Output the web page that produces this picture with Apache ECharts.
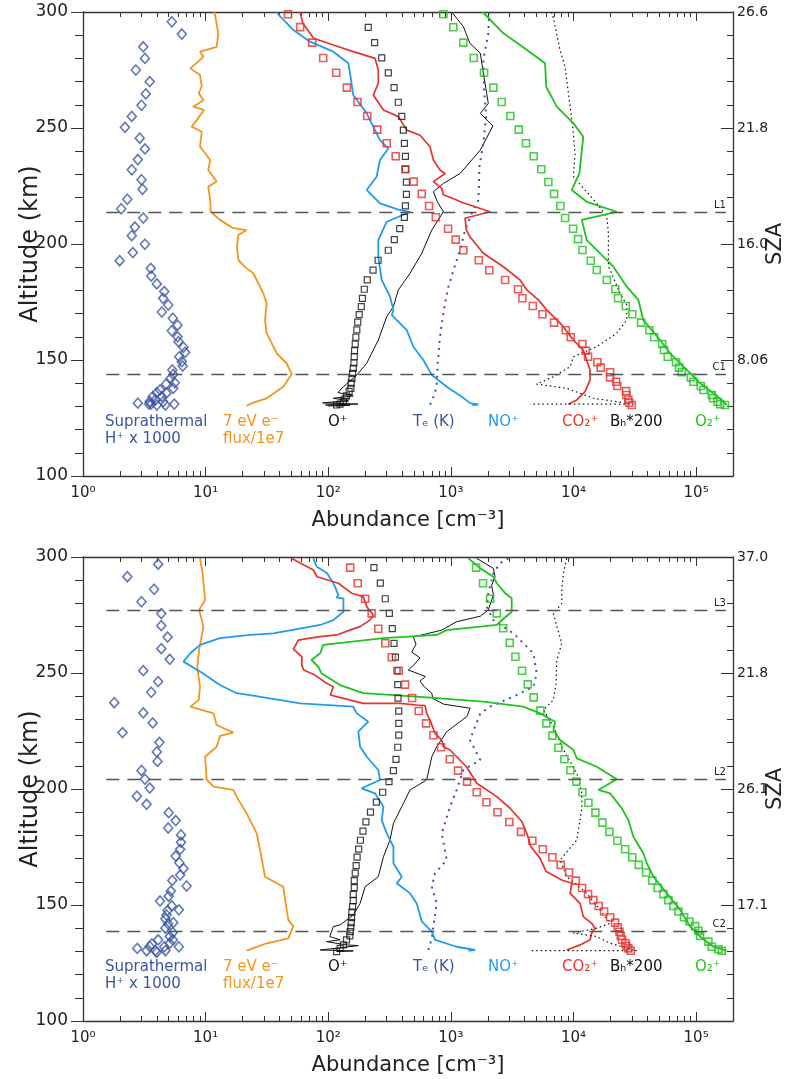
<!DOCTYPE html>
<html>
<head>
<meta charset="utf-8">
<script src="https://cdn.jsdelivr.net/npm/echarts@6/dist/echarts.min.js"></script>
<style>
html, body { margin: 0; padding: 0; background: #fff; }
#main { width: 785px; height: 1079px; }
</style>
</head>
<body>
<div id="main"></div>
<script>
// ---- axes ----
const decades = [1, 10, 100, 1000, 10000, 100000]
const decadeLabels = ['10⁰', '10¹', '10²', '10³', '10⁴', '10⁵']
const minorTicks = [2, 3, 4, 5, 6, 7, 8, 9, 20, 30, 40, 50, 60, 70, 80, 90,
    200, 300, 400, 500, 600, 700, 800, 900, 2000, 3000, 4000, 5000, 6000, 7000, 8000, 9000,
    20000, 30000, 40000, 50000, 60000, 70000, 80000, 90000, 200000]
const szaAlt = [300, 250, 200, 150]
const szaTop = ['26.6', '21.8', '16.0', '8.06']
const szaBot = ['37.0', '21.8', '26.1', '17.1']
const eventsTop = [['L1', 213.8], ['C1', 144]]
const eventsBot = [['L3', 277], ['L2', 204], ['C2', 138.8]]

// ---- top panel, [abundance, altitude km] ----
const hTop = [[5.3,295.8],[6.4,290.5],[3.1,285],[3.2,280],[2.7,275],[3.5,270],[3.25,264.7],[3.0,259.8],[2.5,255],[2.2,250.3],
    [2.9,245.6],[3.2,241],[2.8,236.4],[2.5,232],[3.0,227.7],[3.06,223.6],[2.3,219.3],[2.05,215.2],[3.1,211.2],[2.65,207.3],
    [2.5,203.6],[3.2,199.9],[2.55,196.3],[1.99,192.8],[3.57,189.5],[3.6,186.2],[4.0,182.8],[4.6,179.5],[4.5,176.6],[4.96,173.7],
    [4.4,170.7],[5.4,168],[5.9,165],[5.3,162.6],[5.9,160],[6.0,157.9],[6.6,155.5],[6.8,153.3],[6.1,151.4],[6.4,149.3],
    [6.5,147.4],[5.35,145.7],[5.45,143.8],[5.2,142.1],[5.6,140.2],[4.75,139.6],[5.45,137.8],[4.25,137.1],[4.0,135.9],[4.8,135.7],
    [3.7,134.2],[4.4,134.2],[3.9,132.8],[3.5,132.1],[4.5,132],[3.6,131],[4.0,130.6],[2.8,131.4],[3.45,131],[5.55,131],[4.7,130.6]]
const fluxTop = [[11.8,300],[12.7,290.8],[12.3,285],[9.0,282.9],[9.6,280.8],[8.5,278.2],[7.5,275.7],[9.0,272.8],[9.3,268],[8.8,265],
    [9.6,262],[7.9,259.2],[9.7,257.8],[8.5,253.5],[7.7,250.6],[9.3,248.4],[9.0,242],[10.9,236.2],[10.5,231.9],[12.3,226.9],
    [10.5,224.7],[10.9,219],[11.0,213.9],[13.1,210.4],[16.8,206.8],[21.6,206],[18.5,203.9],[18.0,198.9],[18.5,193],[21.6,189.5],
    [24.5,187.4],[29.5,178.7],[31.5,174.4],[30.5,167.2],[31.5,161.5],[38,152.9],[45.7,148.6],[50.4,144],[43,138.5],[31.5,133.5],
    [24.5,131.6],[21.6,130.3]]
const oSqTop = [[212,293.4],[239,286.8],[273,280.2],[309,273.8],[344,267.4],[373,261.1],[398,255],[410,249.1],[418,243.4],[426,237.8],
    [426,232.2],[434,226.7],[434,221.4],[426,216.4],[418,211.5],[383,206.6],[346,201.9],[309,197.3],[255,193],[232,188.7],
    [208,184.5],[197,180.5],[190,176.6],[186,173],[179,169.6],[174,166.3],[171,163],[168,159.8],[166,156.8],[164,154],
    [163,151.4],[162,148.8],[160,146.4],[158,144.2],[156,142.1],[154,140],[153,137.8],[148,136.5],[141,134.5],[137,133.3],
    [133,132.1],[125,131],[117,130.6]]
const oLineTop = [[1016,300],[1265,293.7],[1430,286.5],[1740,282.2],[1840,273.6],[1960,265],[2020,260.6],[1740,256.3],[2200,250.9],[1740,240.5],
    [1190,230.4],[869,226.1],[720,222.5],[780,218],[869,213.9],[699,206],[579,196],[465,187.4],[373,180.2],[340,173],
    [300,168.7],[256,158.6],[206,148.6],[171,143.5],[133,138.5],[120,136],[160,134.5],[110,133.5],[145,132.5],[90,131.5],
    [175,131],[95,130.6],[150,130.4],[100,130.2]]
const teTop = [[2060,300],[2020,290.8],[1840,279.3],[1860,267.8],[1940,254.9],[1840,243.4],[1710,233.3],[1680,219],[1480,213.2],[1305,206],
    [1190,197.4],[1050,188.8],[955,181.6],[897,174.4],[843,165.8],[805,157.2],[782,148.6],[767,140],[742,135.7],[676,130.6]]
const noTop = [[37.5,300],[52,292.2],[71,287.2],[110,282.9],[146,277.9],[152,272.1],[160,264.2],[206,256.3],[264,244.8],[309,241.2],
    [264,236.2],[248,229],[206,223.3],[264,217.5],[373,214.8],[465,213.8],[300,209.6],[256,201.7],[256,194.5],[273,184.5],
    [319,177.3],[340,171.6],[330,169.4],[362,167.2],[437,162.9],[494,155.7],[597,150],[699,143.5],[925,138.5],[1227,134.2],
    [1435,131.4],[1676,130.9],[1500,130.5]]
const co2Top = [[59,300],[62,295.1],[76,288.7],[110,285.8],[160,282.9],[241,280],[256,275],[256,269.3],[233,264.2],[282,257.8],
    [373,254.9],[437,249.1],[561,246.9],[676,241.9],[720,236.2],[816,231.9],[897,230.4],[720,226.9],[843,224],[869,221.2],
    [1115,219],[1190,218.2],[2090,213.9],[1305,211.1],[1340,206],[1430,203.1],[1840,196],[2680,190.2],[3670,184.5],[4160,180.2],
    [5170,175.9],[6050,171.6],[8030,165.1],[10000,158.6],[12000,154.3],[13650,145.7],[13650,141.4],[12440,136.4],[10640,132.8],[9080,130.9]]
const co2SqTop = [[47,299],[59,293.5],[74,286.8],[91,280.2],[116,273.8],[142,267.4],[173,261.2],[208,255.2],[251,249.3],[300,243.4],
    [355,237.8],[426,232.2],[498,226.9],[579,221.6],[664,216.4],[754,211.5],[949,206.6],[1096,201.9],[1265,197.3],[1690,193],
    [2060,188.7],[2770,184.5],[3530,180.5],[3830,176.6],[4660,173.3],[5580,169.7],[6950,166.1],[8650,162.8],[9500,159.8],[11830,156.9],
    [12600,154],[13150,151.4],[15670,149],[16690,146.7],[19900,144.7],[19900,142.5],[22280,140.6],[22800,138.8],[26850,136.6],[27000,134.9],
    [28000,133],[28500,131.6],[29900,130.6]]
const bhTop = [[6600,300],[6860,297.3],[7770,283.6],[8540,276.4],[9090,265],[9860,250.6],[10300,239.1],[9990,229],[15490,217.5],[18700,211.8],
    [19270,204.6],[19270,190.2],[19900,188.8],[24000,178.7],[27200,173.7],[27200,167.2],[22500,161.5],[15490,155.8],[10000,151.4],[9400,147.1],
    [6860,142.8],[5010,139.6],[8810,137.8],[14530,133.5],[30800,131],[4420,131]]
const o2Top = [[1820,300],[2680,290.8],[3670,285.8],[5870,277.9],[5990,267.8],[7310,259.2],[10000,252],[12030,246.2],[11700,240.5],[11170,230.4],
    [9680,223.3],[12820,218.2],[22540,213.9],[11700,210.4],[12820,201.7],[16480,196],[21170,190.2],[27200,181.6],[33800,175.9],[37150,167.2],
    [50800,158.6],[61350,152.9],[83960,145.7],[107900,140],[138500,135.7],[167000,132.1],[178000,130.6]]
const o2SqTop = [[870,299],[1048,293.4],[1265,286.8],[1537,280.2],[1866,273.8],[2222,267.4],[2600,261.2],[3055,255.2],[3580,249.3],[4100,243.4],
    [4740,237.8],[5470,232.2],[6240,226.7],[6950,221.6],[7820,216.4],[8540,211.2],[9930,206.6],[10900,202.1],[11830,197.4],[13840,192.8],
    [15490,188.8],[18700,184.5],[21980,180.5],[23100,176.6],[26700,173.3],[30200,169.7],[35600,166.1],[41600,162.8],[45500,159.8],[52800,156.9],
    [54800,154.3],[58700,151.4],[68700,149],[72600,146.7],[76400,144.7],[90600,142.5],[95100,140.6],[109200,138.8],[114800,137.1],[134400,134.9],
    [137600,133.5],[149200,132],[157000,131],[172000,130.6]]

// ---- bottom panel ----
const hBot = [[4.1,296.9],[2.3,291.5],[3.8,286.1],[3.0,280.7],[4.35,275.6],[4.35,270.4],[4.9,265.5],[4.35,260.5],[5.1,255.9],[3.1,251],
    [4.1,246.3],[3.6,241.7],[1.8,237.2],[3.1,232.8],[3.7,228.5],[2.1,224.3],[4.2,220.1],[4.0,216],[4.05,211.9],[3.0,208],
    [3.2,204.2],[3.5,200.4],[2.75,196.9],[3.3,193.4],[5.0,189.8],[5.7,186.4],[4.95,183.2],[6.3,180.2],[6.3,177],[6.2,174],
    [5.7,171.1],[6.1,168.2],[6.6,165.7],[6.2,162.9],[5.35,160.6],[7.0,158.2],[5.2,156],[5.0,153.8],[4.25,151.7],[5.3,149.6],
    [4.9,147.6],[6.05,147.9],[4.8,145.7],[4.7,144.1],[5.45,142.4],[4.95,141.8],[4.7,140],[5.4,138.1],[5.1,136.4],[4.1,135],
    [5.4,135],[3.65,133.2],[5.1,133.5],[3.5,132.1],[4.6,132],[6.05,132],[2.77,131.3],[3.3,130.3],[3.9,130.3],[4.0,129.6],[4.7,130.3]]
const fluxBot = [[9.0,299.4],[9.45,293],[9.9,281.5],[8.85,277.2],[9.6,270],[8.85,260],[8.55,252.7],[9.0,244.1],[8.8,238.4],[7.5,235.5],
    [11.6,232.6],[12.3,227.6],[16.8,224.3],[13.1,222.9],[12.3,218.2],[9.9,213.9],[10.2,204],[11.6,201],[16.8,199.6],[18.5,195.3],
    [21.6,189.5],[26.1,180.9],[27.8,173.7],[30.5,162.2],[43,157.9],[44.5,152.1],[47.3,143.5],[51.9,140.9],[47.3,135.6],[31.5,133.5],[21.6,130.3]]
const oSqBot = [[236,295.4],[266,288.7],[292,282],[315,275.7],[333,269.1],[344,262.8],[353,256.8],[364,251],[369,245],[371,239.2],
    [376,233.6],[376,228.3],[376,223.2],[369,218],[357,212.8],[340,207.9],[313,203.2],[278,198.6],[247,194.3],[221,190],
    [203,185.8],[192,181.8],[183,177.9],[177,174.1],[172,170.6],[169,167],[166,163.7],[163,160.5],[163,157.5],[160,154.6],
    [160,151.9],[158,149.3],[156,146.9],[155,144.6],[154,142.4],[153,140.4],[151,138.5],[150,136.7],[141,135],[133,132.8],[125,131.3],[117,129.9]]
const oLineBot = [[1627,299.4],[2222,295.1],[2295,291.5],[2150,287.9],[2222,283.6],[2020,277.2],[1740,274.5],[1115,272.1],[843,268.5],[494,265.5],
    [520,262.5],[480,259],[560,256.5],[500,253.5],[450,251.3],[620,248.5],[560,246.5],[610,244],[699,241.3],[711,239.1],
    [869,236.6],[1435,234.8],[1349,231.2],[925,224.7],[767,218.2],[699,213.9],[635,203.9],[465,199.6],[398,192.4],[340,185.2],
    [319,178],[282,170.8],[256,162.2],[200,157.9],[182,150.7],[160,145.7],[125,141.4],[110,140.7],[103,136.4],[125,135],
    [97,134.2],[141,132.8],[176,132.5],[86,130.6],[160,130.2],[117,129.9]]
const teBot = [[2944,299.4],[2520,297.3],[2222,293],[2020,284.4],[1960,278.6],[2222,272.8],[3235,267.1],[4710,258.5],[5010,249.9],[4710,244.1],
    [3235,239.8],[2090,235.5],[1740,232.6],[1430,221.1],[1740,212.5],[1265,208.2],[1115,199.6],[985,192.4],[843,180.9],[925,169.4],
    [743,163.7],[699,157.9],[767,150.7],[720,140.7],[699,135.6],[656,130.6]]
const noBot = [[75.6,299.4],[80.6,295.8],[98,293],[110,288.7],[114,287],[121,283.6],[117,282.5],[133,282.2],[133,276.4],[110,272.8],
    [86,270.7],[35.7,267.1],[23,266.4],[13.1,265],[9.0,262.1],[7.5,258.5],[6.6,254.9],[9.0,250.6],[13.1,244.8],[17.9,241.3],
    [23,240.5],[59,236.9],[160,235.5],[171,232.6],[212,229],[176,224.7],[182,218.2],[206,213.9],[256,208.2],[264,203.9],
    [187,200.3],[241,198.1],[282,192.4],[273,186.6],[300,180.9],[340,175.1],[340,168],[398,162.2],[362,159.4],[465,155],
    [527,150.7],[579,142.9],[699,138.5],[743,135],[1115,132],[1575,130.6],[1390,130.3]]
const co2Bot = [[50.4,299.4],[75.6,294.4],[81,291.5],[121,288.7],[155,284.4],[193,282.9],[206,278.6],[233,275],[219,272.8],[182,270],
    [150,268.5],[117,266.4],[86,265.7],[71,265],[57,264.2],[52,260.3],[61,257],[60.8,253.5],[63,251.3],[78,249.1],
    [97,245.6],[110,244.1],[104,240.5],[117,239.8],[193,236.9],[385,236.9],[527,236.2],[617,235.9],[635,232.6],[676,229.7],
    [743,224],[843,221.1],[869,218.2],[985,216.8],[1340,209.6],[1627,202.5],[2370,196.7],[3040,191.7],[3135,191],[3785,186],
    [4160,180.9],[4500,175.1],[5340,170.1],[5990,164.4],[8030,160.8],[9680,159.4],[9400,155],[11320,150.7],[12030,145],[14090,142.1],
    [15000,140],[14090,137.9],[13650,135],[11320,132.8],[8810,130.6]]
const co2SqBot = [[151,295.4],[174,288.7],[200,282],[226,275.7],[256,269.1],[292,262.8],[330,256.8],[376,251],[423,245],[483,239.2],
    [547,233.6],[628,228.3],[720,223.2],[832,218],[980,212.8],[1145,207.9],[1355,203.2],[1627,198.6],[1950,194.3],[2400,190],
    [3000,185.8],[3730,181.5],[4620,177.7],[5620,174],[6730,170.6],[7870,167.3],[9200,164],[10450,160.5],[11750,157.3],[13150,154.7],
    [14530,152.1],[16070,149.6],[17780,147.2],[19900,144.7],[21840,142.4],[22960,140.4],[23700,138.5],[24300,136.7],[24900,135],[26500,133.5],
    [27000,132.3],[28000,131.3],[29300,130.3]]
const bhBot = [[8810,299.4],[8280,293],[8030,285.8],[8030,280],[6860,275.7],[7310,270],[8030,262.8],[7310,255.6],[7210,245.6],[6860,238.4],
    [5690,234.1],[6860,226.9],[8030,218.2],[10640,206.8],[11700,198.1],[11700,191.7],[10640,178],[7770,169.4],[8810,162.2],[12820,155],
    [16480,147.9],[19900,142.1],[15490,140],[10000,137.9],[15490,136.4],[19900,133.5],[32800,130.3],[4420,130.3]]
const o2Bot = [[1390,299.4],[1740,295.1],[2222,291.5],[2370,288.7],[2770,284.4],[3135,282.2],[3135,276.4],[2520,272.1],[2370,270.7],[925,268.5],
    [767,266.4],[282,265],[91,262.1],[86,258.5],[73,255.6],[83,252.7],[88,249.9],[125,244.8],[193,241.3],[527,239.8],
    [1840,237.7],[3900,235.5],[5340,232.6],[7080,229],[6860,225.4],[7770,221.1],[10000,216.8],[10640,213.2],[15490,209.6],[22540,204.2],
    [15960,199.6],[19900,198.1],[24770,191.7],[28050,186.6],[30800,179.4],[37150,172.3],[39600,168],[44900,162.2],[57700,155],[74100,147.9],
    [89300,140.7],[107900,136.4],[138500,132],[178000,130.3]]
const o2SqBot = [[1607,295.4],[1832,288.7],[2090,282],[2370,275.7],[2670,269.3],[3020,263],[3360,257],[3810,251],[4240,245.1],[4740,239.5],
    [5370,233.8],[6010,228.3],[6730,223],[7530,217.8],[8430,212.8],[9440,208.1],[10560,203.2],[11830,198.6],[13240,194.1],[15090,189.8],
    [17200,185.5],[19630,181.5],[22800,177.7],[26360,174],[30200,170.6],[34060,167.3],[39100,164],[44000,160.5],[48700,157.3],[54100,154.7],
    [59400,152.1],[65300,149.6],[71800,147.2],[79800,144.7],[88200,142.9],[98100,140.9],[104500,138.9],[107900,136.7],[126000,134.2],[134300,132],
    [152000,130.9],[162000,130.3]]

const FONT = 'DejaVu Sans'
const INK = '#222'
const C = {
    hplus: '#3b55a5', flux: '#f7931e', no: '#1f9cf0', co2: '#e8322e', o2: '#1ec31e', black: '#111'
}

const chart = echarts.init(document.getElementById('main'), null, { renderer: 'canvas' })
const grids = [], xAxes = [], yAxes = [], series = [], graphics = []

function addPanel(p, top, sza, events, d) {
    grids.push({ left: 83, top: top, width: 650, height: 464, containLabel: false, outerBoundsMode: 'none' })
    const xBase = { gridIndex: p, type: 'log', logBase: 10, min: 1, max: 2e5, splitLine: { show: false } }
    xAxes.push(Object.assign({}, xBase, {
        position: 'bottom',
        axisLine: { lineStyle: { color: '#333', width: 1.3 } },
        axisTick: { inside: true, length: 9, customValues: decades, lineStyle: { color: '#333' } },
        axisLabel: {
            customValues: decades, margin: 10, color: INK, fontFamily: FONT, fontSize: 15,
            formatter: v => decadeLabels[Math.round(Math.log10(v))]
        },
        name: 'Abundance [cm⁻³]', nameLocation: 'middle', nameGap: 34, nameMoveOverlap: false,
        nameTextStyle: { color: INK, fontFamily: FONT, fontSize: 21 }
    }))
    xAxes.push(Object.assign({}, xBase, {
        position: 'bottom', axisLine: { show: false },
        axisTick: { inside: true, length: 5, customValues: minorTicks, lineStyle: { color: '#333' } },
        axisLabel: { show: false }
    }))
    xAxes.push(Object.assign({}, xBase, {
        position: 'top',
        axisLine: { lineStyle: { color: '#333', width: 1.3 } },
        axisTick: { inside: true, length: 9, customValues: decades, lineStyle: { color: '#333' } },
        axisLabel: { show: false }
    }))
    xAxes.push(Object.assign({}, xBase, {
        position: 'top', axisLine: { show: false },
        axisTick: { inside: true, length: 5, customValues: minorTicks, lineStyle: { color: '#333' } },
        axisLabel: { show: false }
    }))
    yAxes.push({
        gridIndex: p, type: 'value', position: 'left', min: 100, max: 300, interval: 50,
        splitLine: { show: false },
        axisLine: { lineStyle: { color: '#333', width: 1.3 } },
        axisTick: { length: 12, lineStyle: { color: '#333' } },
        minorTick: { show: true, splitNumber: 5, length: 8, lineStyle: { color: '#333' } },
        axisLabel: { margin: 15, color: INK, fontFamily: FONT, fontSize: 17 },
        name: 'Altitude (km)', nameLocation: 'middle', nameGap: 40, nameMoveOverlap: false,
        nameTextStyle: { color: INK, fontFamily: FONT, fontSize: 24 }
    })
    yAxes.push({
        gridIndex: p, type: 'value', position: 'right', min: 100, max: 300, interval: 50,
        splitLine: { show: false },
        axisLine: { lineStyle: { color: '#333', width: 1.3 } },
        axisTick: { inside: true, length: 12, lineStyle: { color: '#333' } },
        minorTick: { show: true, splitNumber: 5, length: 6, lineStyle: { color: '#333' } },
        axisLabel: {
            margin: 4, color: INK, fontFamily: FONT, fontSize: 14,
            formatter: v => { const i = szaAlt.indexOf(v); return i < 0 ? '' : sza[i] }
        },
        name: 'SZA', nameLocation: 'middle', nameGap: 32, nameMoveOverlap: false,
        nameTextStyle: { color: INK, fontFamily: FONT, fontSize: 21 }
    })

    const xi = p * 4, yi = p * 2
    const line = (data, color, width, type, z) => ({
        type: 'line', xAxisIndex: xi, yAxisIndex: yi, data: data, symbol: 'none', showSymbol: false,
        silent: true, z: z || 2, lineStyle: { color: color, width: width, type: type || 'solid' }
    })
    const marks = (data, symbol, size, color, bw) => ({
        type: 'scatter', xAxisIndex: xi, yAxisIndex: yi, data: data, symbol: symbol, symbolSize: size,
        silent: true, z: 4, itemStyle: { color: 'rgba(255,255,255,0)', borderColor: color, borderWidth: bw }
    })

    const dashes = line([], '#555', 1.3)
    dashes.markLine = {
        silent: true, symbol: 'none', animation: false,
        lineStyle: { color: '#555', width: 1.3, type: [13, 8] },
        label: { position: 'insideEndTop', color: INK, fontFamily: FONT, fontSize: 10, distance: [0, 2] },
        data: events.map(e => [{ coord: [1.55, e[1]], label: { formatter: e[0] } }, { coord: [1.75e5, e[1]] }])
    }
    series.push(dashes)
    series.push(line(d.flux, C.flux, 1.8))
    series.push(line(d.oLine, C.black, 1))
    series.push(line(d.te, C.hplus, 2, [2, 5]))
    series.push(line(d.no, C.no, 1.8))
    series.push(line(d.co2, C.co2, 1.7))
    series.push(line(d.bh, C.black, 1.2, [1.5, 3]))
    series.push(line(d.o2, C.o2, 1.8))
    series.push(marks(d.h, 'diamond', [9, 10], C.hplus, 1.6))
    series.push(marks(d.oSq, 'rect', 6, C.black, 1.2))
    series.push(marks(d.co2Sq, 'rect', 7, C.co2, 1.6))
    series.push(marks(d.o2Sq, 'rect', 7, C.o2, 1.6))

    const ty = top + 402
    const tags = [
        ['Suprathermal\nH⁺ x 1000', 105, C.hplus], ['7 eV e⁻\nflux/1e7', 223, C.flux], ['O⁺', 328, C.black],
        ['Tₑ (K)', 413, C.hplus], ['NO⁺', 488, C.no], ['CO₂⁺', 562, C.co2], ['Bₕ*200', 610, C.black], ['O₂⁺', 695, C.o2]
    ]
    tags.forEach(t => graphics.push({
        type: 'text', x: t[1], y: ty, silent: true,
        style: { text: t[0], fill: t[2], fontFamily: FONT, fontSize: 15, lineHeight: 17, verticalAlign: 'top' }
    }))
}

addPanel(0, 12, szaTop, eventsTop, {
    h: hTop, flux: fluxTop, oSq: oSqTop, oLine: oLineTop, te: teTop, no: noTop,
    co2: co2Top, co2Sq: co2SqTop, bh: bhTop, o2: o2Top, o2Sq: o2SqTop
})
addPanel(1, 557, szaBot, eventsBot, {
    h: hBot, flux: fluxBot, oSq: oSqBot, oLine: oLineBot, te: teBot, no: noBot,
    co2: co2Bot, co2Sq: co2SqBot, bh: bhBot, o2: o2Bot, o2Sq: o2SqBot
})

chart.setOption({
    animation: false,
    backgroundColor: '#fff',
    textStyle: { fontFamily: FONT },
    grid: grids,
    xAxis: xAxes,
    yAxis: yAxes,
    series: series,
    graphic: graphics
})
</script>
</body>
</html>
